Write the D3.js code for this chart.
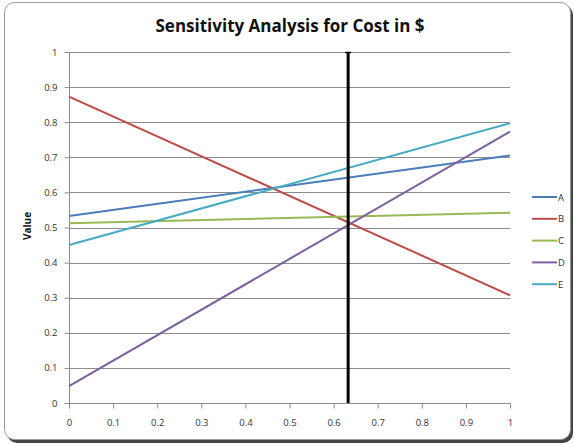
<!DOCTYPE html>
<html><head><meta charset="utf-8">
<script src="https://cdn.jsdelivr.net/npm/d3@7"></script>
<style>body{margin:0;background:#fff;}svg{display:block;}</style>
</head><body>
<svg id="c" width="574" height="444"></svg>
<script>
const seriesNames = ["A","B","C","D","E"];
const xPoints = [0, 1];
const valuesA = [0.533, 0.705];
const valuesB = [0.873, 0.307];
const valuesC = [0.512, 0.542];
const valuesD = [0.048, 0.773];
const valuesE = [0.450, 0.797];
const colors = ["#4a7ebb","#be4b48","#98b954","#7d60a0","#46aac5"];
const markerX = 0.633;
const xTicks = [0,0.1,0.2,0.3,0.4,0.5,0.6,0.7,0.8,0.9,1];
const yTicks = [0,0.1,0.2,0.3,0.4,0.5,0.6,0.7,0.8,0.9,1];
const allValues = [valuesA,valuesB,valuesC,valuesD,valuesE];

const svg = d3.select("#c");
svg.append("rect").attr("x",7).attr("y",5).attr("width",566).attr("height",438).attr("rx",10).attr("fill","#444");
svg.append("rect").attr("x",4.5).attr("y",2.5).attr("width",566).attr("height",437).attr("rx",10)
  .attr("fill","#fff").attr("stroke","#9a9a9a").attr("stroke-width",1);

const x = d3.scaleLinear().domain([0,1]).range([69,510]);
const y = d3.scaleLinear().domain([0,1]).range([403,52]);

svg.append("g").selectAll("line").data(yTicks.slice(1)).join("line")
  .attr("x1",x(0)).attr("x2",x(1)).attr("y1",d=>Math.round(y(d))+0.5).attr("y2",d=>Math.round(y(d))+0.5)
  .attr("stroke","#8c8c8c").attr("stroke-width",1);

const font = "'Open Sans', 'Liberation Sans', Arial, sans-serif";
const yAxis = svg.append("g").attr("transform",`translate(${x(0)+0.5},0)`)
  .call(d3.axisLeft(y).tickValues(yTicks).tickFormat(d=>d3.format("")(+d.toFixed(1))).tickSize(5).tickPadding(7));
const xAxis = svg.append("g").attr("transform",`translate(0,${Math.round(y(0))+0.5})`)
  .call(d3.axisBottom(x).tickValues(xTicks).tickFormat(d=>d3.format("")(+d.toFixed(1))).tickSize(5).tickPadding(11));
[xAxis,yAxis].forEach(a=>{
  a.selectAll("path,line").attr("stroke","#8c8c8c");
  a.select(".domain").attr("d", a===xAxis ? `M${x(0)},0H${x(1)}` : `M0,${y(0)}V${y(1)}`);
  a.selectAll("text").attr("fill","#333").style("font-family",font).style("font-size","9.5px");
});

const line = d3.line().x((d,i)=>x(xPoints[i])).y(d=>y(d));
svg.append("g").selectAll("path").data(allValues).join("path")
  .attr("d",line).attr("fill","none").attr("stroke",(d,i)=>colors[i]).attr("stroke-width",2);

svg.append("line").attr("x1",x(markerX)).attr("x2",x(markerX)).attr("y1",y(1)).attr("y2",y(0))
  .attr("stroke","#000").attr("stroke-width",3);
svg.append("line").attr("x1",x(markerX)-3).attr("x2",x(markerX)+3).attr("y1",y(1)+0.5).attr("y2",y(1)+0.5)
  .attr("stroke","#000").attr("stroke-width",1.5);

svg.append("text").attr("x",290).attr("y",32).attr("text-anchor","middle")
  .style("font-family","'Open Sans', Lato, sans-serif").style("font-weight","bold").style("font-size","17px")
  .attr("fill","#111").text("Sensitivity Analysis for Cost in $");

svg.append("text").attr("transform","translate(31,226) rotate(-90)").attr("text-anchor","middle")
  .style("font-family",font).style("font-weight","bold").style("font-size","10px").attr("fill","#111").text("Value");

const lg = svg.append("g").selectAll("g").data(seriesNames).join("g")
  .attr("transform",(d,i)=>`translate(532,${197+i*21.8})`);
lg.append("line").attr("x1",0).attr("x2",25).attr("stroke",(d,i)=>colors[i]).attr("stroke-width",2);
lg.append("text").attr("x",26).attr("y",3.5).style("font-family",font).style("font-size","9.5px").attr("fill","#333").text(d=>d);
</script>
</body></html>
